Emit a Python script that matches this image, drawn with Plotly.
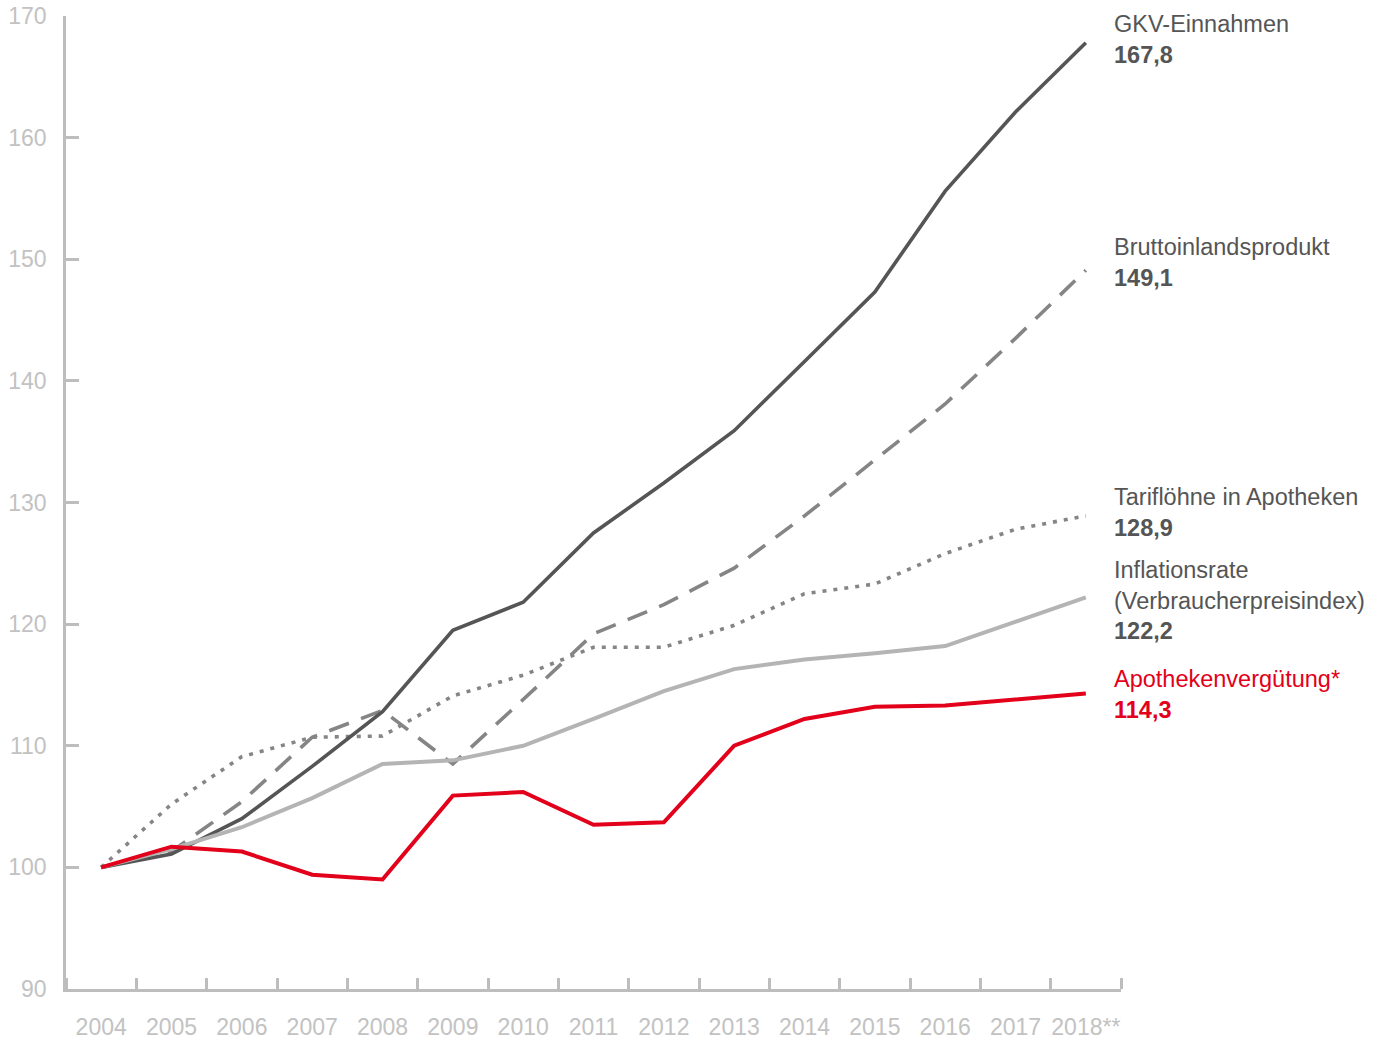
import plotly.graph_objects as go

years = list(range(2004, 2019))
year_labels = [str(y) for y in range(2004, 2018)] + ["2018**"]

gkv = [100, 101.1, 104.0, 108.3, 112.8, 119.5, 121.8, 127.5, 131.6, 135.9, 141.6, 147.3, 155.6, 162.1, 167.8]
bip = [100, 101.3, 105.4, 110.7, 112.9, 108.5, 113.8, 119.2, 121.6, 124.6, 128.9, 133.5, 138.1, 143.5, 149.1]
tarif = [100, 105.2, 109.1, 110.7, 110.8, 114.1, 115.8, 118.1, 118.1, 119.9, 122.5, 123.3, 125.8, 127.8, 128.9]
inflation = [100, 101.5, 103.3, 105.7, 108.5, 108.8, 110.0, 112.2, 114.5, 116.3, 117.1, 117.6, 118.2, 120.2, 122.2]
apotheke = [100, 101.7, 101.3, 99.4, 99.0, 105.9, 106.2, 103.5, 103.7, 110.0, 112.2, 113.2, 113.3, 113.8, 114.3]

label_names = ["GKV-Einnahmen", "Bruttoinlandsprodukt", "Tariflöhne in Apotheken",
               "Inflationsrate<br>(Verbraucherpreisindex)", "Apothekenvergütung*"]
label_values = ["167,8", "149,1", "128,9", "122,2", "114,3"]
label_y = [168.05, 149.75, 129.15, 121.95, 114.2]

DARK = "#555555"
MID = "#858585"
LIGHT = "#b4b4b4"
RED = "#e2001a"
AXIS = "#bdbdbd"
label_colors = [DARK, DARK, DARK, DARK, RED]
value_colors = [DARK, DARK, DARK, DARK, RED]

fig = go.Figure()
fig.add_trace(go.Scatter(x=years, y=bip, mode="lines",
                         line=dict(color=MID, width=3.6, dash="21px,13px")))
fig.add_trace(go.Scatter(x=years, y=tarif, mode="lines",
                         line=dict(color=MID, width=3.6, dash="4px,7px")))
fig.add_trace(go.Scatter(x=years, y=gkv, mode="lines",
                         line=dict(color=DARK, width=3.6)))
fig.add_trace(go.Scatter(x=years, y=inflation, mode="lines",
                         line=dict(color=LIGHT, width=4)))
fig.add_trace(go.Scatter(x=years, y=apotheke, mode="lines",
                         line=dict(color=RED, width=4)))

for name, val, yv, c1, c2 in zip(label_names, label_values, label_y, label_colors, value_colors):
    fig.add_annotation(
        x=2018.37, y=yv, xref="x", yref="y", xanchor="left", yanchor="middle",
        align="left", showarrow=False,
        text=f"<span style='color:{c1}'>{name}</span><br><b style='color:{c2}'>{val}</b>",
        font=dict(family="Liberation Sans, Arial, sans-serif", size=23.5, color=c1),
    )

tickfont = dict(family="Liberation Sans, Arial, sans-serif", size=23, color="#c2c2c2")

fig.update_layout(
    width=1377, height=1043,
    margin=dict(l=66, r=256, t=16, b=54),
    paper_bgcolor="white", plot_bgcolor="white",
    showlegend=False,
    xaxis=dict(
        range=[2003.5, 2018.5], showgrid=False, zeroline=False, automargin=False,
        showline=True, linecolor=AXIS, linewidth=2.5,
        tickmode="array", tickvals=years, ticktext=year_labels,
        ticks="", tickfont=tickfont, ticklabelstandoff=16,
        minor=dict(tickmode="linear", tick0=2004.5, dtick=1, ticks="inside",
                   ticklen=11, tickwidth=2.5, tickcolor=AXIS, showgrid=False),
    ),
    yaxis=dict(
        range=[90, 170], showgrid=False, zeroline=False, automargin=False,
        showline=True, linecolor=AXIS, linewidth=2.5,
        tickmode="linear", tick0=90, dtick=10,
        ticks="inside", ticklen=13, tickwidth=2.5, tickcolor=AXIS,
        tickfont=tickfont, ticklabelstandoff=12,
    ),
)

fig.write_html(
    "out.html",
    config={"displayModeBar": False},
    post_script="document.body.style.margin='0';document.body.style.overflow='hidden';",
)
